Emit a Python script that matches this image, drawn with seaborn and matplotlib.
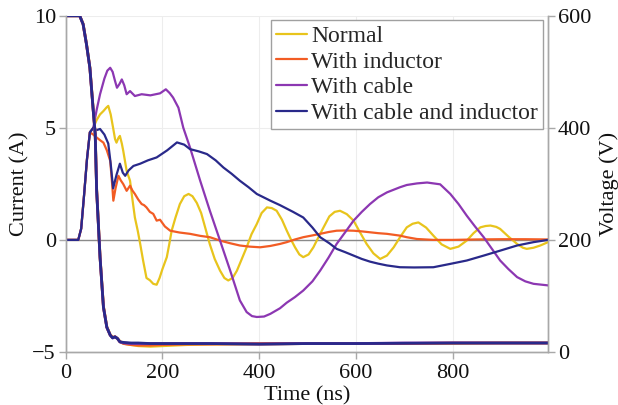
import matplotlib
matplotlib.use("Agg")
import matplotlib.pyplot as plt
import seaborn as sns
import pandas as pd

# ---- series names and colours ----
series = ["Normal", "With inductor", "With cable", "With cable and inductor"]
colors = ["#E8C41C", "#F25C24", "#8C37B2", "#29298A"]

# ---- current traces (A) ----
t_normal = [0, 26, 32, 38, 44, 50, 57, 64, 71, 78, 84, 88, 93, 98, 102, 105, 109, 112, 116, 119,
            126, 133, 138, 143, 149, 154, 160, 167, 174, 181, 188, 194, 200, 209, 214, 219, 227,
            236, 245, 254, 262, 271, 280, 289, 298, 308, 319, 328, 336, 345, 354, 364, 374, 384,
            395, 405, 416, 426, 436, 447, 457, 466, 474, 483, 491, 502, 512, 522, 533, 545, 556,
            567, 581, 595, 608, 622, 636, 650, 664, 678, 692, 705, 717, 729, 745, 760, 777, 795,
            812, 829, 843, 857, 868, 878, 890, 898, 915, 933, 945, 953, 967, 981, 997]
i_normal = [0, 0, 0.5, 2.0, 3.6, 4.8, 5.0, 5.35, 5.6, 5.75, 5.9, 5.98, 5.6, 5.0, 4.5, 4.34, 4.55,
            4.64, 4.3, 3.97, 3.08, 2.64, 1.8, 1.0, 0.4, -0.18, -0.92, -1.7, -1.8, -1.96, -2.0,
            -1.7, -1.3, -0.77, -0.2, 0.41, 1.0, 1.6, 1.95, 2.05, 1.95, 1.65, 1.2, 0.5, -0.2,
            -0.85, -1.37, -1.7, -1.81, -1.7, -1.37, -0.85, -0.33, 0.25, 0.71, 1.2, 1.45, 1.42,
            1.3, 0.9, 0.41, 0.0, -0.33, -0.65, -0.77, -0.65, -0.33, 0.1, 0.56, 1.05, 1.25, 1.3,
            1.15, 0.86, 0.35, -0.18, -0.6, -0.85, -0.7, -0.33, 0.15, 0.56, 0.72, 0.78, 0.55,
            0.19, -0.2, -0.4, -0.3, -0.03, 0.3, 0.56, 0.62, 0.64, 0.58, 0.49, 0.15, -0.18,
            -0.35, -0.4, -0.35, -0.25, -0.1]

t_inductor = [0, 26, 32, 38, 44, 50, 57, 64, 71, 78, 85, 92, 96, 98.5, 103, 109, 114, 119, 126,
              133, 138, 143, 150, 157, 162, 167, 174, 181, 188, 195, 205, 216, 235, 257, 278,
              298, 319, 340, 360, 380, 402, 423, 443, 457, 474, 491, 510, 526, 543, 560, 578,
              595, 612, 629, 646, 664, 691, 705, 726, 760, 800, 850, 900, 950, 997]
i_inductor = [0, 0, 0.5, 2.0, 3.6, 4.8, 4.7, 4.57, 4.45, 4.34, 4.0, 3.53, 2.5, 1.75, 2.3, 2.86,
              2.65, 2.49, 2.19, 2.42, 2.2, 2.05, 1.8, 1.6, 1.55, 1.45, 1.25, 1.16, 0.86, 0.9,
              0.6, 0.41, 0.33, 0.27, 0.18, 0.12, -0.03, -0.15, -0.25, -0.3, -0.33, -0.27,
              -0.18, -0.1, 0.02, 0.12, 0.2, 0.27, 0.35, 0.41, 0.42, 0.41, 0.38, 0.34, 0.3,
              0.27, 0.19, 0.12, 0.04, 0.0, 0.0, 0.02, 0.03, 0.03, 0.02]

t_cable = [0, 26, 32, 38, 44, 50, 57, 64, 71, 80, 86, 92, 97, 102, 106, 111, 116, 121, 126, 133,
           143, 157, 175, 195, 207, 215, 222, 233, 243, 257, 278, 298, 319, 340, 360, 374, 385,
           395, 410, 423, 443, 457, 474, 491, 510, 526, 543, 560, 578, 595, 612, 629, 646, 664,
           691, 705, 726, 747, 774, 795, 812, 829, 846, 864, 881, 898, 915, 933, 950, 967, 997]
i_cable = [0, 0, 0.5, 2.0, 3.6, 4.8, 5.0, 5.8, 6.5, 7.2, 7.55, 7.68, 7.5, 7.09, 6.79, 6.95, 7.16,
           6.9, 6.5, 6.64, 6.42, 6.5, 6.45, 6.54, 6.72, 6.55, 6.35, 5.9, 5.01, 4.12, 2.64, 1.3,
           -0.03, -1.37, -2.7, -3.22, -3.4, -3.44, -3.42, -3.3, -3.05, -2.8, -2.55, -2.26,
           -1.85, -1.37, -0.8, -0.18, 0.35, 0.86, 1.25, 1.6, 1.9, 2.12, 2.35, 2.45, 2.52, 2.56,
           2.48, 2.05, 1.6, 1.08, 0.6, 0.12, -0.4, -0.92, -1.3, -1.66, -1.85, -1.96, -2.03]

t_both = [0, 26, 32, 38, 44, 50, 57, 64, 71, 80, 88, 93, 98, 105, 112, 118, 123, 130, 140, 154,
          170, 188, 210, 230, 245, 257, 275, 292, 310, 326, 343, 360, 378, 395, 423, 443, 470,
          491, 510, 526, 545, 560, 578, 595, 612, 629, 646, 664, 691, 720, 760, 795, 829, 864,
          898, 933, 967, 997]
i_both = [0, 0, 0.5, 2.0, 3.6, 4.8, 5.0, 4.9, 4.95, 4.7, 4.3, 3.4, 2.3, 2.9, 3.4, 3.0, 2.86, 3.1,
          3.3, 3.4, 3.55, 3.68, 4.0, 4.35, 4.25, 4.05, 3.95, 3.83, 3.55, 3.23, 2.95, 2.64, 2.35,
          2.05, 1.75, 1.55, 1.25, 1.0, 0.55, 0.12, -0.15, -0.4, -0.55, -0.7, -0.85, -0.97,
          -1.06, -1.14, -1.22, -1.23, -1.22, -1.07, -0.92, -0.7, -0.48, -0.25, -0.1, 0.0]

# ---- voltage traces (V) ----
t_volt = [0, 29, 36, 43, 50, 57, 61, 64, 68, 71, 78, 85, 92, 97, 102, 107, 112, 120, 135, 150,
          175, 200, 250, 300, 400, 500, 600, 700, 800, 900, 997]
v_normal = [600, 600, 586, 550, 508, 432, 390, 290, 222, 170, 82, 45, 31, 26, 27, 24, 19, 15,
            13, 11, 10, 11, 13, 14, 14, 15, 15, 15, 15, 16, 16]
v_inductor = [600, 600, 585, 549, 507, 431, 389, 289, 221, 169, 81, 44, 30, 26, 27, 24, 18, 15,
              13, 12, 12, 13, 14, 14, 15, 15, 15, 15, 16, 16, 16]
v_cable = [600, 600, 585, 549, 507, 430, 389, 288, 220, 169, 80, 44, 30, 25, 27, 24, 18, 16, 15,
           15, 15, 15, 15, 15, 14, 15, 15, 16, 16, 16, 16]
v_both = [600, 600, 585, 549, 507, 430, 389, 288, 220, 169, 80, 44, 30, 25, 27, 24, 18, 17, 16,
          16, 15, 15, 15, 15, 14, 15, 15, 15.5, 16, 16, 16]

x_ticks = [0, 200, 400, 600, 800]
i_ticks = [-5, 0, 5, 10]
v_ticks = [0, 200, 400, 600]

cur_t = [t_normal, t_inductor, t_cable, t_both]
cur_i = [i_normal, i_inductor, i_cable, i_both]
volt_v = [v_normal, v_inductor, v_cable, v_both]

cur_df = pd.concat([pd.DataFrame({"Time": t, "Current": i, "Series": s})
                    for t, i, s in zip(cur_t, cur_i, series)], ignore_index=True)
volt_df = pd.concat([pd.DataFrame({"Time": t_volt, "Voltage": v, "Series": s})
                     for v, s in zip(volt_v, series)], ignore_index=True)

sns.set_theme(style="white")
plt.rcParams["font.family"] = ["Liberation Serif", "DejaVu Serif"]
plt.rcParams["mathtext.fontset"] = "stix"

fig, ax = plt.subplots(figsize=(6.18, 4.05), dpi=100)
fig.subplots_adjust(left=0.1063, right=0.8868, top=0.961, bottom=0.131)
ax2 = ax.twinx()

palette = dict(zip(series, colors))
ax.axhline(0, color="#8a8a8a", lw=1.0, zorder=1)
sns.lineplot(data=cur_df, x="Time", y="Current", hue="Series", hue_order=series,
             palette=palette, estimator=None, sort=False, lw=1.6, ax=ax, legend=False, zorder=3)
sns.lineplot(data=volt_df, x="Time", y="Voltage", hue="Series", hue_order=series,
             palette=palette, estimator=None, sort=False, lw=2.0, ax=ax2, legend=False)

ax.set_xlim(0, 997)
ax.set_ylim(-5, 10)
ax2.set_ylim(0, 600)
ax.set_xticks(x_ticks)
ax.set_yticks(i_ticks)
ax2.set_yticks(v_ticks)

ax.grid(True, color="#ededed", lw=0.8)
ax.set_axisbelow(True)
ax2.grid(False)

spine_col = "#a8a8a8"
for a in (ax, ax2):
    a.spines["top"].set_visible(False)
    for k in ("left", "right", "bottom"):
        a.spines[k].set_color(spine_col)
        a.spines[k].set_linewidth(1.0)
    a.tick_params(axis="both", which="major", labelsize=16, length=5, width=1.0,
                  color=spine_col, labelcolor="#111111", pad=2)
ax.tick_params(axis="x", bottom=True, pad=4)
ax.tick_params(axis="y", left=True)
ax2.tick_params(axis="y", right=True)

ax.set_xlabel("Time (ns)", fontsize=16, color="#111111", labelpad=2)
ax.set_ylabel("Current (A)", fontsize=16, color="#111111", labelpad=2)
ax2.set_ylabel("Voltage (V)", fontsize=16, color="#111111", labelpad=6)

handles = [plt.Line2D([], [], color=c, lw=1.6) for c in colors]
leg = ax2.legend(handles, series, loc="upper right", bbox_to_anchor=(0.99, 0.987),
                 borderaxespad=0, fontsize=17, frameon=True, fancybox=False,
                 framealpha=1, edgecolor="#a0a0a0", borderpad=0.22, labelspacing=0.18,
                 handlelength=1.3, handletextpad=0.2)
leg.get_frame().set_linewidth(1.0)

fig.savefig("out.png", dpi=100)
